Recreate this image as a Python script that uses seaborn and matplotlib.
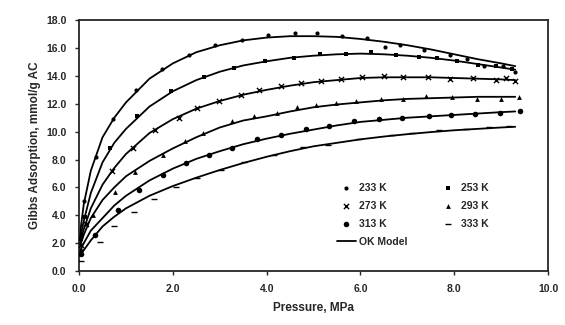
import numpy as np
import pandas as pd
import matplotlib
matplotlib.use("Agg")
import matplotlib.pyplot as plt
import seaborn as sns

# measured points (pressure MPa, Gibbs adsorption mmol/g)
p_233 = [0.03, 0.11, 0.36, 0.72, 1.22, 1.76, 2.35, 2.9, 3.48, 4.03, 4.6, 5.08, 5.61, 6.13, 6.52, 6.85, 7.36, 7.9, 8.27, 8.64, 9.05, 9.3]
q_233 = [2.6, 5.0, 8.2, 10.9, 13.0, 14.5, 15.5, 16.2, 16.6, 16.9, 17.05, 17.05, 16.85, 16.7, 16.1, 16.2, 15.85, 15.5, 15.2, 14.7, 14.7, 14.3]
p_253 = [0.03, 0.12, 0.66, 1.23, 1.97, 2.67, 3.3, 3.96, 4.59, 5.13, 5.69, 6.22, 6.75, 7.25, 7.63, 8.06, 8.5, 8.88, 9.24]
q_253 = [2.3, 3.9, 8.8, 11.1, 12.9, 13.9, 14.6, 15.06, 15.25, 15.6, 15.6, 15.7, 15.47, 15.35, 15.25, 15.06, 14.8, 14.7, 14.46]
p_273 = [0.04, 0.15, 0.71, 1.16, 1.62, 2.12, 2.51, 2.99, 3.45, 3.84, 4.3, 4.73, 5.15, 5.58, 6.04, 6.5, 6.9, 7.45, 7.9, 8.4, 8.9, 9.1, 9.3]
q_273 = [1.9, 3.4, 7.2, 8.8, 10.1, 11.0, 11.7, 12.2, 12.66, 13.0, 13.26, 13.5, 13.67, 13.8, 13.9, 14.0, 13.95, 13.95, 13.75, 13.85, 13.7, 13.85, 13.6]
p_293 = [0.05, 0.3, 0.77, 1.19, 1.78, 2.26, 2.65, 3.27, 3.73, 4.23, 4.65, 5.05, 5.47, 5.9, 6.43, 6.9, 7.39, 7.96, 8.49, 8.99, 9.38]
q_293 = [1.6, 4.0, 5.7, 7.1, 8.35, 9.3, 9.9, 10.74, 11.1, 11.35, 11.77, 11.94, 12.06, 12.2, 12.35, 12.37, 12.54, 12.5, 12.37, 12.37, 12.5]
p_313 = [0.05, 0.34, 0.82, 1.28, 1.78, 2.29, 2.77, 3.27, 3.8, 4.3, 4.83, 5.33, 5.86, 6.4, 6.89, 7.46, 7.92, 8.44, 8.97, 9.4]
q_313 = [1.2, 2.6, 4.4, 5.78, 6.9, 7.75, 8.35, 8.8, 9.5, 9.78, 10.2, 10.43, 10.8, 10.9, 10.98, 11.15, 11.22, 11.3, 11.35, 11.46]
p_333 = [0.05, 0.45, 0.75, 1.17, 1.6, 2.06, 2.52, 3.02, 3.52, 4.16, 4.77, 5.3, 5.97, 6.68, 7.1, 7.68, 8.25, 8.74, 9.17]
q_333 = [0.7, 2.1, 3.2, 4.27, 5.16, 6.0, 6.67, 7.27, 7.8, 8.35, 8.87, 9.06, 9.47, 9.78, 9.9, 10.14, 10.2, 10.3, 10.38]

# OK model curves
p_model = [0, 0.1, 0.25, 0.5, 0.75, 1.0, 1.5, 2.0, 2.5, 3.0, 3.5, 4.0, 4.5, 5.0, 5.5, 6.0, 6.5, 7.0, 7.5, 8.0, 8.5, 9.0, 9.3]
m_233 = [2.2, 4.8, 7.2, 9.6, 11.0, 12.1, 13.8, 14.9, 15.7, 16.2, 16.55, 16.75, 16.85, 16.85, 16.8, 16.65, 16.45, 16.2, 15.9, 15.55, 15.2, 14.9, 14.7]
m_253 = [2.0, 3.6, 5.6, 7.8, 9.2, 10.2, 11.8, 12.9, 13.7, 14.3, 14.75, 15.05, 15.3, 15.45, 15.55, 15.6, 15.55, 15.45, 15.3, 15.1, 14.85, 14.6, 14.45]
m_273 = [1.8, 3.0, 4.5, 6.2, 7.4, 8.4, 9.9, 10.9, 11.65, 12.2, 12.65, 13.0, 13.3, 13.55, 13.7, 13.85, 13.9, 13.9, 13.9, 13.85, 13.8, 13.75, 13.7]
m_293 = [1.6, 2.6, 3.8, 5.1, 6.0, 6.8, 7.9, 8.8, 9.6, 10.3, 10.8, 11.1, 11.45, 11.75, 11.95, 12.1, 12.25, 12.35, 12.4, 12.45, 12.5, 12.5, 12.5]
m_313 = [1.3, 2.0, 2.9, 3.8, 4.7, 5.4, 6.5, 7.35, 8.05, 8.6, 9.1, 9.5, 9.85, 10.15, 10.45, 10.7, 10.85, 11.0, 11.1, 11.2, 11.3, 11.4, 11.45]
m_333 = [1.0, 1.5, 2.2, 3.2, 3.9, 4.5, 5.4, 6.1, 6.7, 7.25, 7.75, 8.2, 8.6, 8.95, 9.2, 9.45, 9.65, 9.82, 9.97, 10.1, 10.2, 10.3, 10.35]

temps = ["233 K", "253 K", "273 K", "293 K", "313 K", "333 K"]
points = [(p_233, q_233), (p_253, q_253), (p_273, q_273), (p_293, q_293), (p_313, q_313), (p_333, q_333)]
models = [m_233, m_253, m_273, m_293, m_313, m_333]
markers = ["o", "s", "x", "^", "o", "_"]
msizes = [9, 10, 14, 12, 16, 14]

sns.set_style("ticks")
plt.rcParams['font.family'] = ['Liberation Sans', 'DejaVu Sans']
plt.rcParams['font.weight'] = 'bold'

fig = plt.figure(figsize=(5.65, 3.25), dpi=100)
ax = fig.add_axes([0.140, 0.166, 0.830, 0.772])

handles = {}
for t, (p, q), m, mk, ms in zip(temps, points, models, markers, msizes):
    df = pd.DataFrame({"P": p, "q": q})
    sc = ax.scatter(df["P"], df["q"], marker=mk, s=ms, color="black",
                    linewidths=1.0 if mk in ("x", "_") else 0, zorder=3)
    handles[t] = sc
    dm = pd.DataFrame({"P": p_model, "q": m})
    sns.lineplot(data=dm, x="P", y="q", ax=ax, color="black", lw=1.3,
                 sort=False, estimator=None)

model_line = plt.Line2D([], [], color="black", lw=1.3)
leg_h = [handles["233 K"], handles["273 K"], handles["313 K"], model_line,
         handles["253 K"], handles["293 K"], handles["333 K"]]
leg_l = ["233 K", "273 K", "313 K", "OK Model", "253 K", "293 K", "333 K"]
ax.legend(leg_h, leg_l, ncol=2, frameon=False, loc="lower left",
          bbox_to_anchor=(0.53, 0.06), handlelength=1.8,
          handletextpad=0.3, columnspacing=3.0, labelspacing=0.75,
          prop={'weight': 'bold', 'size': 7.5})

ax.set_xlim(0, 10)
ax.set_ylim(0, 18)
ax.set_xticks(np.arange(0, 10.1, 2))
ax.set_yticks(np.arange(0, 18.1, 2))
ax.set_xticklabels([f"{v:.1f}" for v in np.arange(0, 10.1, 2)])
ax.set_yticklabels([f"{v:.1f}" for v in np.arange(0, 18.1, 2)])
ax.tick_params(direction="out", length=3, width=1, labelsize=7.5, pad=6)
for s in ax.spines.values():
    s.set_linewidth(1.3)
    s.set_visible(True)
ax.set_xlabel("Pressure, MPa", fontsize=8.5, fontweight="bold", labelpad=6)
ax.set_ylabel("Gibbs Adsorption, mmol/g AC", fontsize=8.5, fontweight="bold", labelpad=4)

fig.savefig("out.png", dpi=100)
